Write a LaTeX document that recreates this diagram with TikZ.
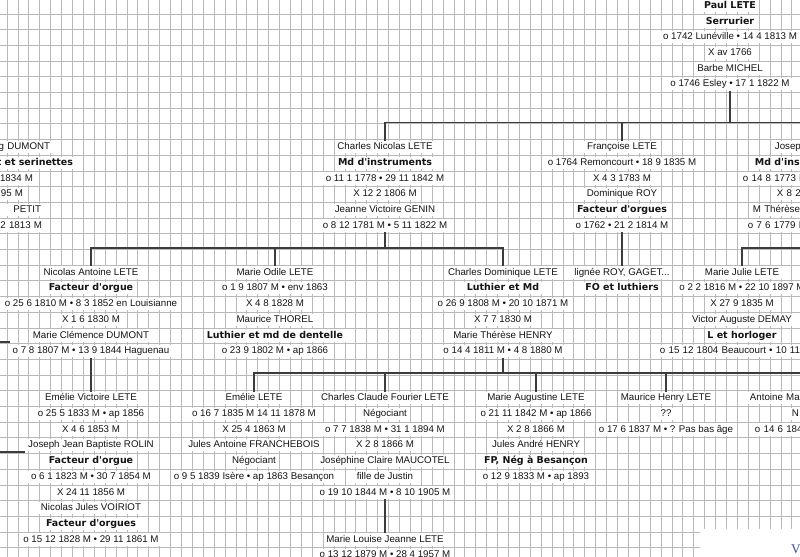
\documentclass[tikz,border=0pt]{standalone}
\usepackage{fontspec}
\setmainfont{Liberation Sans}
\newfontfamily\dejavu{DejaVu Sans}
\newfontfamily\filigrane{Liberation Serif}
\newcommand\metier{\dejavu\bfseries\fontsize{7.1}{8}\selectfont}
\definecolor{trait}{RGB}{60,60,60}
\definecolor{gris}{RGB}{185,185,185}
\definecolor{encre}{RGB}{20,20,20}
\definecolor{bleu}{RGB}{60,80,160}

\begin{document}
\begin{tikzpicture}[x=0.75pt,y=-0.75pt,
grille/.style={draw=gris,line width=0.75pt},
ln/.style={fill=white,text=encre,font=\fontsize{7.3}{8}\selectfont,inner xsep=2pt,inner ysep=1pt,text height=5.6pt,text depth=1.6pt},
bordg/.style={ln,anchor=east,text width=90pt,align=right},
bordd/.style={ln,anchor=west,text width=160pt,align=left},
lien/.style={draw=trait,line width=1.1pt}]
\useasboundingbox (0,0) rectangle (800,557);
\clip (0,0) rectangle (800,557);
\fill[white] (0,0) rectangle (800,557);
% quadrillage
\foreach \i in {0,...,73} \draw[grille] ({round(6.7+10.9*\i)+0.5},0) -- ++(0,557);
\foreach \k in {-1,...,34} \draw[grille] (0,{round(13.55+15.7*\k)+0.5}) -- ++(800,0);
\fill[white] (700,529) rectangle (800,557);
\node[text=bleu,font=\filigrane\fontsize{10}{10}\selectfont] (wm) at (796,549) {V};
% generation 1
\foreach \t [count=\n] in {{\metier Paul LETE},{\metier Serrurier},{o 1742 Lunéville • 14 4 1813 M},{X av 1766},{Barbe MICHEL},{o 1746 Esley • 17 1 1822 M}}
  \node[ln] (pl-\n) at (730,{5.7+15.7*(\n-1)}) {\t};
% generation 2
\foreach \t/\x [count=\n] in {{g DUMONT}/53,{\metier t et serinettes}/76,{1834 M}/36,{95 M}/26,{PETIT}/44,{5 2 1813 M}/45}
  \node[bordg] (du-\n) at (\x,{5.7+15.7*(\n+8)}) {\t};
\foreach \t [count=\n] in {{Charles Nicolas LETE},{\metier Md d'instruments},{o 11 1 1778 • 29 11 1842 M},{X 12 2 1806 M},{Jeanne Victoire GENIN},{o 8 12 1781 M • 5 11 1822 M}}
  \node[ln] (cn-\n) at (385,{5.7+15.7*(\n+8)}) {\t};
\foreach \t [count=\n] in {{Françoise LETE},{o 1764 Remoncourt • 18 9 1835 M},{X 4 3 1783 M},{Dominique ROY},{\metier Facteur d'orgues},{o 1762 • 21 2 1814 M}}
  \node[ln] (fr-\n) at (622,{5.7+15.7*(\n+8)}) {\t};
\foreach \t/\x [count=\n] in {{Josep}/772,{\metier Md d'ins}/752,{o 14 8 1773 M}/740,{X 8 2}/774,{M Thérèse}/750,{o 7 6 1779 M}/745}
  \node[bordd] (jo-\n) at (\x,{5.7+15.7*(\n+8)}) {\t};
% generation 3
\foreach \t [count=\n] in {{Nicolas Antoine LETE},{\metier Facteur d'orgue},{o 25 6 1810 M • 8 3  1852 en Louisianne},{X 1 6 1830 M},{Marie Clémence DUMONT},{o 7 8 1807 M • 13 9 1844 Haguenau}}
  \node[ln] (na-\n) at (91,{5.7+15.7*(\n+16)}) {\t};
\foreach \t [count=\n] in {{Marie Odile LETE},{o 1 9 1807 M • env 1863},{X 4 8 1828 M},{Maurice THOREL},{\metier Luthier et md de dentelle},{o 23 9 1802 M • ap 1866}}
  \node[ln] (mo-\n) at (275,{5.7+15.7*(\n+16)}) {\t};
\foreach \t [count=\n] in {{Charles Dominique LETE},{\metier Luthier et Md},{o 26 9 1808 M • 20 10 1871 M},{X 7 7 1830 M},{Marie Thérèse HENRY},{o 14 4 1811 M • 4 8 1880 M}}
  \node[ln] (cd-\n) at (503,{5.7+15.7*(\n+16)}) {\t};
\foreach \t [count=\n] in {{lignée ROY, GAGET.{}.{}.},{\metier FO et luthiers}}
  \node[ln] (lg-\n) at (622,{5.7+15.7*(\n+16)}) {\t};
\foreach \t [count=\n] in {{Marie Julie LETE},{o 2 2 1816 M • 22 10 1897 M},{X 27 9 1835 M},{Victor Auguste DEMAY},{\metier L et horloger}}
  \node[ln] (mj-\n) at (742,{5.7+15.7*(\n+16)}) {\t};
\node[bordd] (mj-6) at (657,{5.7+15.7*22}) {o 15 12 1804 Beaucourt • 10 11 18};
% generation 4
\foreach \t [count=\n] in {{Emélie Victoire LETE},{o 25 5 1833 M • ap 1856},{X 4 6 1853 M},{Joseph Jean Baptiste ROLIN},{\metier Facteur d'orgue},{o 6 1 1823 M • 30 7 1854 M},{X 24 11 1856 M},{Nicolas Jules VOIRIOT},{\metier Facteur d'orgues},{o 15 12 1828 M • 29 11 1861 M}}
  \node[ln] (ev-\n) at (91,{5.7+15.7*(\n+24)}) {\t};
\foreach \t [count=\n] in {{Emélie LETE},{o 16 7 1835 M 14 11 1878 M},{X 25 4 1863 M},{Jules Antoine FRANCHEBOIS},{Négociant},{o 9 5 1839 Isère • ap 1863 Besançon}}
  \node[ln] (em-\n) at (254,{5.7+15.7*(\n+24)}) {\t};
\foreach \t [count=\n] in {{Charles Claude Fourier LETE},{Négociant},{o 7 7 1838 M • 31 1 1894 M},{X 2 8 1866 M},{Joséphine Claire MAUCOTEL},{fille de Justin},{o 19 10 1844 M • 8 10 1905 M}}
  \node[ln] (cf-\n) at (385,{5.7+15.7*(\n+24)}) {\t};
\foreach \t [count=\n] in {{Marie Augustine LETE},{o 21 11 1842 M • ap 1866},{X 2 8 1866 M},{Jules André HENRY},{\metier FP, Nég à Besançon},{o 12 9 1833 M • ap 1893}}
  \node[ln] (ma-\n) at (536,{5.7+15.7*(\n+24)}) {\t};
\foreach \t [count=\n] in {{Maurice Henry LETE},{??},{o 17 6 1837 M • ? Pas bas âge}}
  \node[ln] (mh-\n) at (666,{5.7+15.7*(\n+24)}) {\t};
\foreach \t/\x [count=\n] in {{Antoine Ma}/747,{N}/789,{o 14 6 1848}/752}
  \node[bordd] (an-\n) at (\x,{5.7+15.7*(\n+24)}) {\t};
% generation 5
\foreach \t [count=\n] in {{Marie Louise Jeanne LETE},{o 13 12 1879 M • 28 4 1957 M}}
  \node[ln] (ml-\n) at (385,{5.7+15.7*(\n+33)}) {\t};
% liens
\coordinate (g2) at (800,122.5);
\coordinate (g3) at (0,248);
\coordinate (g3d) at (800,248);
\coordinate (g4) at (800,373);
\coordinate (bg1) at (0,342);
\coordinate (bg2) at (0,452);
\draw[lien] (pl-6.south) -- (pl-6.south |- g2);
\draw[lien] (cn-1.north) |- (g2);
\draw[lien] (fr-1.north) -- (fr-1.north |- g2);
\draw[lien] (cn-6.south) -- (cn-6.south |- g3);
\draw[lien] (na-1.north) |- (g3 -| cd-1.north) -- (cd-1.north);
\draw[lien] (mo-1.north) -- (mo-1.north |- g3);
\draw[lien] (fr-6.south) -- (lg-1.north);
\draw[lien] (mj-1.north) |- (g3d);
\draw[lien] (na-6.south) -- (ev-1.north);
\draw[lien] (cd-6.south) -- (cd-6.south |- g4);
\draw[lien] (em-1.north) |- (g4);
\foreach \p in {cf,ma,mh} \draw[lien] (\p-1.north) -- (\p-1.north |- g4);
\draw[lien] (cf-7.south) -- (ml-1.north);
\draw[lien] (bg1) -- (bg1 -| na-6.west);
\draw[lien] (bg2) -- (bg2 -| ev-4.west);
\end{tikzpicture}
\end{document}
